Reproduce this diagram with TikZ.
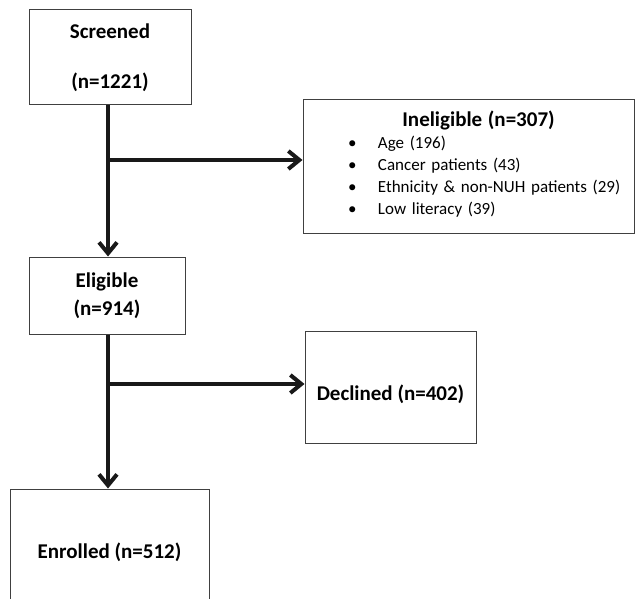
\documentclass[tikz,border=0pt]{standalone}
\usepackage{fontspec}
\setmainfont{Carlito}
\usetikzlibrary{arrows.meta}
\tikzstyle{box} = [rectangle, draw=black!75, line width=0.5pt, inner sep=0pt, text centered, font=\fontsize{10.5}{12.5}\selectfont\bfseries]
\tikzstyle{arr} = [-{Straight Barb[length=5.5pt, width=9pt]}, line width=2pt, black!90]

\begin{document}
\begin{tikzpicture}[x=0.5pt, y=-0.5pt]
            \useasboundingbox (0,0) rectangle (635,598);

            \node (scr) [box, minimum width=81pt, minimum height=47.5pt, align=center] at (110,57.5) {Screened\\[12.5pt](n=1221)};
            \node (elig) [box, minimum width=78pt, minimum height=38.5pt, align=center] at (107,295.5) {Eligible\\[1.5pt](n=914)};
            \node (enr) [box, minimum width=99.5pt, minimum height=63pt] at (109.5,552) {Enrolled (n=512)};
            \node (decl) [box, minimum width=85.5pt, minimum height=56pt, text height=13pt, text depth=0pt] at (390.5,387) {Declined (n=402)};
            \node (inel) [box, minimum width=165.5pt, minimum height=67pt, text width=165.5pt, text height=5pt, align=left, font=\fontsize{8.5}{11}\selectfont] at (468.5,167)
            {\parindent=0pt
             {\centering\fontsize{10.5}{12.5}\selectfont\bfseries\hspace*{10pt}Ineligible (n=307)\par}
             \hspace*{22.5pt}\makebox[15pt][l]{\textbullet}Age (196)\par
             \hspace*{22.5pt}\makebox[15pt][l]{\textbullet}Cancer patients (43)\par
             \hspace*{22.5pt}\makebox[15pt][l]{\textbullet}Ethnicity \& non-NUH patients (29)\par
             \hspace*{22.5pt}\makebox[15pt][l]{\textbullet}Low literacy (39)};

            % main flow
            \draw [arr] (scr.south -| 108,0) -- (elig.north -| 108,0);
            \draw [arr] (elig.south -| 108,0) -- (enr.north -| 108,0);

            % exclusions
            \coordinate (b1) at (108,160);
            \coordinate (b2) at (108,384);
            \draw [arr] (b1) -- (b1 -| inel.west);
            \draw [arr] (b2) -- (b2 -| decl.west);
        \end{tikzpicture}
\end{document}
